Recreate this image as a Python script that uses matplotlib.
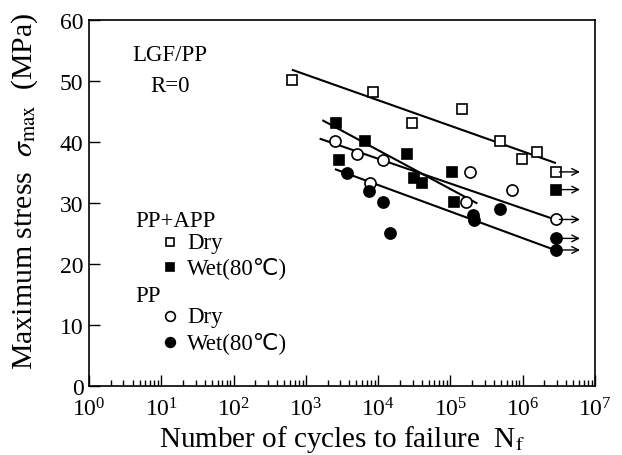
import numpy as np
import matplotlib
matplotlib.use('Agg')
import matplotlib.pyplot as plt
from matplotlib.ticker import LogLocator, NullFormatter

plt.rcParams['font.family'] = ['Liberation Serif', 'DejaVu Serif']
plt.rcParams['mathtext.fontset'] = 'stix'

# PP+APP, dry
n_app_dry = [635, 8560, 29000, 143000, 484000, 985000, 1.56e6]
s_app_dry = [50.2, 48.2, 43.1, 45.4, 40.2, 37.2, 38.3]
# PP+APP, wet (80C)
n_app_wet = [2600, 6580, 2900, 24800, 31600, 40000, 104000, 113000]
s_app_wet = [43.1, 40.1, 37.1, 38.1, 34.1, 33.2, 35.1, 30.2]
# PP, dry
n_pp_dry = [2520, 5130, 11800, 186000, 7700, 701000, 164000]
s_pp_dry = [40.1, 38.0, 37.1, 35.1, 33.2, 32.1, 30.1]
# PP, wet (80C)
n_pp_wet = [3660, 7530, 11800, 14600, 203000, 211000, 484000]
s_pp_wet = [35.0, 32.0, 30.1, 25.1, 28.1, 27.2, 29.1]

# run-outs (no failure)
n_runout = 2.88e6
n_arrow = 6.2e6
s_runout_app_dry = [35.1]
s_runout_app_wet = [32.2]
s_runout_pp_dry = [27.3]
s_runout_pp_wet = [24.2, 22.3]

# fitted lines (N start, N end), (sigma start, sigma end)
fit_app_dry = ([660, 2.79e6], [51.8, 36.6])
fit_app_wet = ([1740, 229000], [43.5, 30.0])
fit_pp_dry = ([1600, 2.79e6], [40.5, 27.3])
fit_pp_wet = ([2600, 2.79e6], [35.5, 22.3])

x_ticks = [1, 1e1, 1e2, 1e3, 1e4, 1e5, 1e6, 1e7]
y_ticks = [0, 10, 20, 30, 40, 50, 60]

fig = plt.figure(figsize=(6.22, 4.56), dpi=100)
ax = fig.add_axes([0.1431, 0.1513, 0.8135, 0.8026])

for nn, ss in [fit_app_dry, fit_app_wet, fit_pp_dry, fit_pp_wet]:
    ax.plot(nn, ss, color='black', lw=1.5, zorder=2)

sq_open = dict(marker='s', ms=6.5, mfc='white', mec='black', mew=1.2, ls='none', zorder=3)
sq_fill = dict(marker='s', ms=6.5, mfc='black', mec='black', mew=1.2, ls='none', zorder=3)
ci_open = dict(marker='o', ms=8, mfc='white', mec='black', mew=1.2, ls='none', zorder=3)
ci_fill = dict(marker='o', ms=8, mfc='black', mec='black', mew=1.2, ls='none', zorder=3)

ax.plot(n_app_dry, s_app_dry, **sq_open)
ax.plot(n_app_wet, s_app_wet, **sq_fill)
ax.plot(n_pp_dry, s_pp_dry, **ci_open)
ax.plot(n_pp_wet, s_pp_wet, **ci_fill)

for svals, style in [(s_runout_app_dry, sq_open), (s_runout_app_wet, sq_fill),
                     (s_runout_pp_dry, ci_open), (s_runout_pp_wet, ci_fill)]:
    for s in svals:
        ax.plot([n_runout], [s], **style)
        ax.annotate('', xy=(n_arrow, s), xytext=(n_runout * 1.12, s),
                    arrowprops=dict(arrowstyle='->', lw=1.0, color='black',
                                    shrinkA=0, shrinkB=0, mutation_scale=12))

ax.set_xscale('log')
ax.set_xlim(1, 1e7)
ax.set_ylim(0, 60)
ax.set_xticks(x_ticks)
ax.xaxis.set_minor_locator(LogLocator(base=10, subs=np.arange(2, 10), numticks=100))
ax.xaxis.set_minor_formatter(NullFormatter())
ax.set_yticks(y_ticks)
ax.tick_params(axis='both', which='major', direction='in', length=8, width=1.0,
               labelsize=17, top=False, right=False)
ax.tick_params(axis='x', which='major', pad=8)
ax.tick_params(axis='y', which='major', pad=4)
ax.tick_params(axis='x', which='minor', direction='in', length=4, width=1.0,
               top=False)
ax.tick_params(axis='y', which='minor', left=False, right=False)
for sp in ax.spines.values():
    sp.set_linewidth(1.2)

ax.set_xlabel(r'Number of cycles to failure  N$_{\mathrm{f}}$', fontsize=21)
ax.xaxis.set_label_coords(0.5, -0.100)
ax.set_ylabel(r'Maximum stress  $\sigma_{\mathrm{max}}$  (MPa)', fontsize=21.5)
ax.yaxis.set_label_coords(-0.097, 0.535)

ax.text(0.160, 0.907, 'LGF/PP', transform=ax.transAxes, fontsize=16.5,
        ha='center', va='center')
ax.text(0.160, 0.820, 'R=0', transform=ax.transAxes, fontsize=16.5,
        ha='center', va='center')

ax.text(0.091, 0.451, 'PP+APP', transform=ax.transAxes, fontsize=16.5, va='center')
ax.text(0.091, 0.246, 'PP', transform=ax.transAxes, fontsize=16.5, va='center')
legend_rows = [(0.393, 's', 'white', 'Dry'), (0.325, 's', 'black', 'Wet(80℃)'),
               (0.191, 'o', 'white', 'Dry'), (0.120, 'o', 'black', 'Wet(80℃)')]
for y, m, fc, label in legend_rows:
    ax.plot([0.160], [y], marker=m, ms=6 if m == 's' else 7, mfc=fc, mec='black',
            mew=1.2, ls='none', transform=ax.transAxes, clip_on=False)
    ax.text(0.194, y, label, transform=ax.transAxes, fontsize=16.5, va='center',
            family=['Liberation Serif', 'DejaVu Sans'])

fig.savefig('out.png', dpi=100)
